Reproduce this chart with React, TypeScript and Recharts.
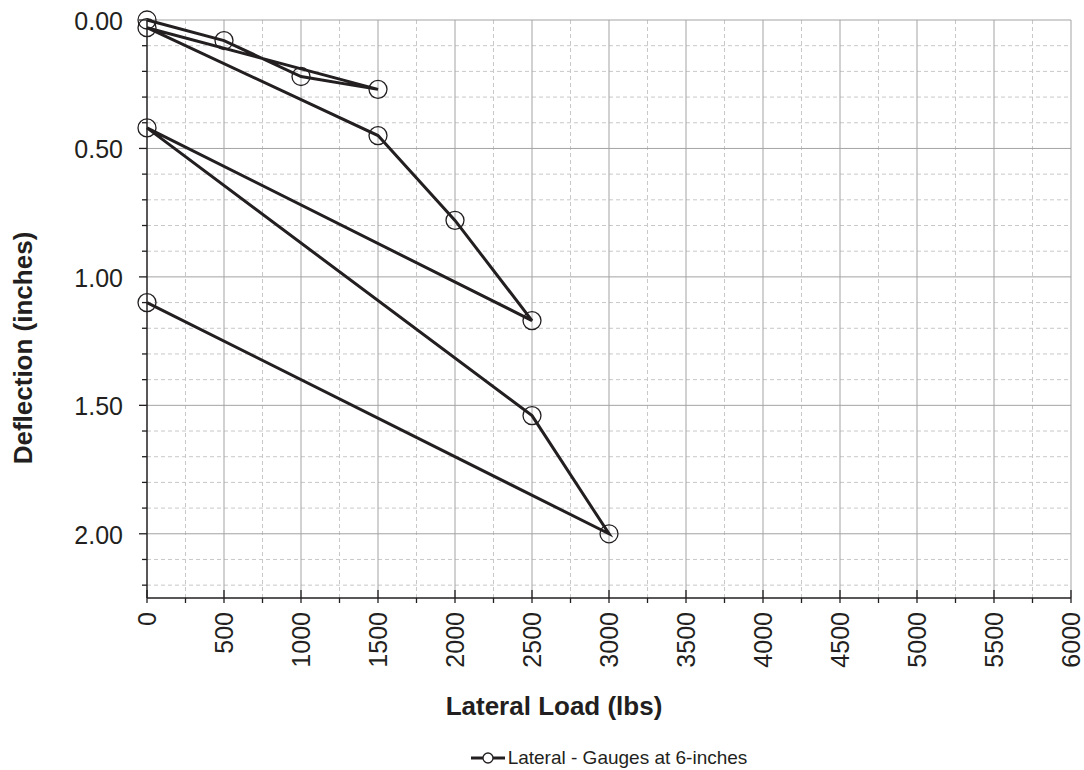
import React from "react";
import { LineChart, Line, XAxis, YAxis, CartesianGrid, Legend, Label } from "recharts";

const loadLbs = [0, 500, 1000, 1500, 0, 1500, 2000, 2500, 0, 2500, 3000, 0];
const deflectionIn = [0.0, 0.08, 0.22, 0.27, 0.03, 0.45, 0.78, 1.17, 0.42, 1.54, 2.0, 1.1];

const xTicks = [0, 250, 500, 750, 1000, 1250, 1500, 1750, 2000, 2250, 2500, 2750, 3000, 3250, 3500, 3750, 4000, 4250, 4500, 4750, 5000, 5250, 5500, 5750, 6000];
const xMajorGrid = [500, 1000, 1500, 2000, 2500, 3000, 3500, 4000, 4500, 5000, 5500, 6000];
const xMinorGrid = [250, 750, 1250, 1750, 2250, 2750, 3250, 3750, 4250, 4750, 5250, 5750];

const yTicks = [0, 0.1, 0.2, 0.3, 0.4, 0.5, 0.6, 0.7, 0.8, 0.9, 1.0, 1.1, 1.2, 1.3, 1.4, 1.5, 1.6, 1.7, 1.8, 1.9, 2.0, 2.1, 2.2];
const yMajorGrid = [0, 0.5, 1.0, 1.5, 2.0];
const yMinorGrid = [0.1, 0.2, 0.3, 0.4, 0.6, 0.7, 0.8, 0.9, 1.1, 1.2, 1.3, 1.4, 1.6, 1.7, 1.8, 1.9, 2.1, 2.2];

const seriesName = "Lateral - Gauges at 6-inches";
const xTitle = "Lateral Load (lbs)";
const yTitle = "Deflection (inches)";

const data = loadLbs.map((x, i) => ({ x, y: deflectionIn[i] }));

const INK = "#231f20";
const FONT = "'Liberation Sans', Arial, sans-serif";

const isMajorX = (v: number) => v % 500 === 0;
const isMajorY = (v: number) => Math.abs(v * 2 - Math.round(v * 2)) < 1e-6;

const XTick = (props: any) => {
  const { x, y, payload } = props;
  const v = Number(payload.value);
  const major = isMajorX(v);
  return (
    <g>
      <line x1={x} x2={x} y1={y - (major ? 8 : 0)} y2={y + 5} stroke={INK} strokeWidth={1.3} />
      {major && (
        <text
          transform={`translate(${x},${y + 14}) rotate(-90)`}
          textAnchor="end"
          dy="0.36em"
          fontSize={25}
          fontFamily={FONT}
          fill={INK}
        >
          {String(v)}
        </text>
      )}
    </g>
  );
};

const YTick = (props: any) => {
  const { x, y, payload } = props;
  const v = Number(payload.value);
  const major = isMajorY(v);
  return (
    <g>
      <line x1={x - (major ? 8 : 5)} x2={x} y1={y} y2={y} stroke={INK} strokeWidth={1.3} />
      {major && (
        <text x={x - 24} y={y} dy={10} textAnchor="end" fontSize={25} fontFamily={FONT} fill={INK}>
          {v.toFixed(2)}
        </text>
      )}
    </g>
  );
};

const renderLegend = () => (
  <div
    style={{
      display: "flex",
      justifyContent: "center",
      alignItems: "center",
      height: 36,
      boxSizing: "border-box",
      paddingTop: 12,
      fontFamily: FONT,
      fontSize: 19,
      color: INK,
    }}
  >
    <svg width={34} height={12} style={{ display: "block" }}>
      <line x1={0} y1={6} x2={34} y2={6} stroke={INK} strokeWidth={3} />
      <circle cx={17} cy={6} r={5} fill="#fff" stroke={INK} strokeWidth={1.3} />
    </svg>
    <span style={{ marginLeft: 3 }}>{seriesName}</span>
  </div>
);

export default function App() {
  return (
    <div style={{ position: "absolute", left: 0, top: 0, width: 1084, height: 770, background: "#fff" }}>
      <LineChart width={1084} height={770} data={data} margin={{ top: 20, right: 13, left: 0, bottom: 0 }}>
        <CartesianGrid
          horizontalValues={yMinorGrid}
          verticalValues={xMinorGrid}
          stroke="#c8c8c8"
          strokeDasharray="4 3"
          strokeWidth={1}
        />
        <CartesianGrid horizontalValues={yMajorGrid} verticalValues={xMajorGrid} stroke="#a3a3a3" strokeWidth={1} />
        <XAxis
          dataKey="x"
          type="number"
          domain={[0, 6000]}
          ticks={xTicks}
          interval={0}
          height={136}
          tickSize={0}
          tickMargin={0}
          tickLine={false}
          axisLine={{ stroke: INK, strokeWidth: 1.5 }}
          tick={XTick}
        >
          <Label
            content={(p: any) => {
              const vb = p.viewBox;
              return (
                <text
                  x={vb.x + vb.width / 2 - 55}
                  y={vb.y + 117}
                  textAnchor="middle"
                  fontSize={26}
                  fontWeight="bold"
                  fontFamily={FONT}
                  fill={INK}
                >
                  {xTitle}
                </text>
              );
            }}
          />
        </XAxis>
        <YAxis
          dataKey="y"
          type="number"
          domain={[0, 2.25]}
          reversed
          ticks={yTicks}
          interval={0}
          width={147}
          tickSize={0}
          tickMargin={0}
          tickLine={false}
          axisLine={{ stroke: INK, strokeWidth: 1.5 }}
          tick={YTick}
        >
          <Label
            content={(p: any) => {
              const vb = p.viewBox;
              const cx = 32;
              const cy = vb.y + vb.height / 2 + 39;
              return (
                <text
                  x={cx}
                  y={cy}
                  transform={`rotate(-90, ${cx}, ${cy})`}
                  textAnchor="middle"
                  fontSize={26}
                  fontWeight="bold"
                  fontFamily={FONT}
                  fill={INK}
                >
                  {yTitle}
                </text>
              );
            }}
          />
        </YAxis>
        <Legend
          verticalAlign="bottom"
          content={renderLegend}
          wrapperStyle={{ left: 147, width: 924, bottom: 0, height: 36 }}
        />
        <Line
          name={seriesName}
          dataKey="y"
          stroke={INK}
          strokeWidth={3}
          isAnimationActive={false}
          dot={{ r: 9, stroke: INK, strokeWidth: 1.3, fill: "none" }}
          activeDot={false}
        />
      </LineChart>
    </div>
  );
}
